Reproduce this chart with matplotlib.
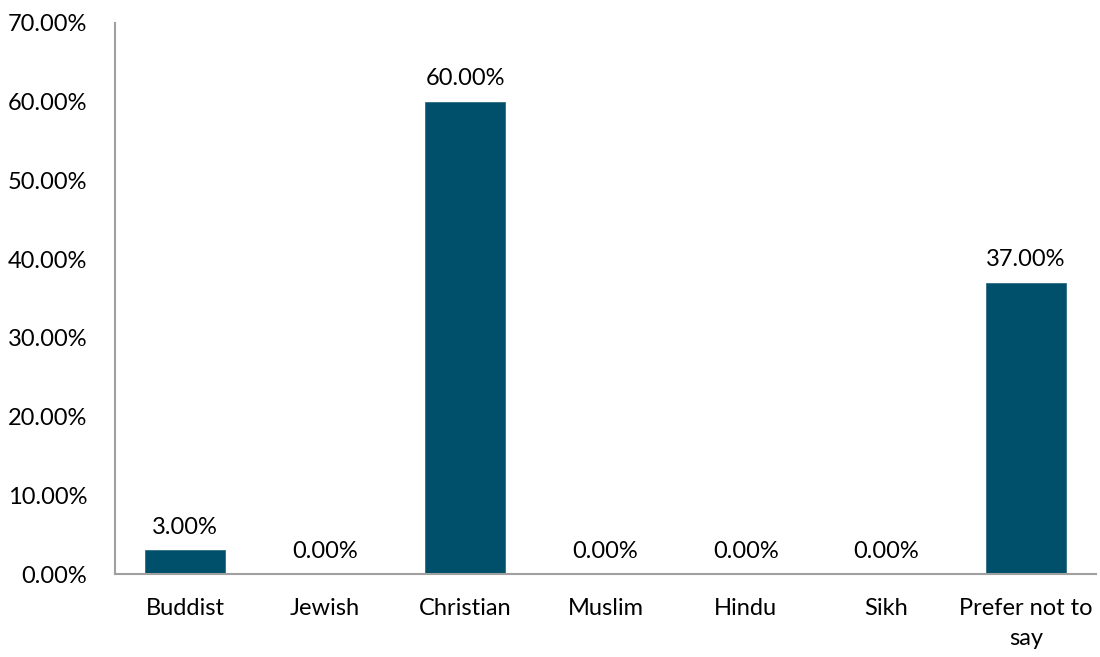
import matplotlib
matplotlib.use('Agg')
import matplotlib.pyplot as plt
from matplotlib.ticker import PercentFormatter

# Religion breakdown (percent of respondents)
categories = ['Buddist', 'Jewish', 'Christian', 'Muslim', 'Hindu', 'Sikh', 'Prefer not to\nsay']
values = [3.0, 0.0, 60.0, 0.0, 0.0, 0.0, 37.0]

plt.rcParams['font.family'] = ['Lato', 'DejaVu Sans']

fig = plt.figure(figsize=(11, 6.57), dpi=100)
ax = fig.add_axes([0.1045, 0.1263, 0.892, 0.8387])

x = range(len(categories))
bars = ax.bar(x, values, width=0.57, color='#004F6B', edgecolor='#2D6F86', linewidth=0.6, zorder=2)

# value labels above each bar
for b, v in zip(bars, values):
    ax.annotate(f'{v:.2f}%', (b.get_x() + b.get_width() / 2, b.get_height()),
                xytext=(0, 9), textcoords='offset points',
                ha='center', va='bottom', fontsize=17, color='black')

ax.set_xlim(-0.5, len(categories) - 0.5)
ax.set_ylim(0, 70)
ax.set_yticks(range(0, 71, 10))
ax.yaxis.set_major_formatter(PercentFormatter(decimals=2))
ax.set_xticks(list(x))
ax.set_xticklabels(categories, fontsize=17, linespacing=1.55)
ax.tick_params(axis='y', labelsize=17, length=0, pad=20)
ax.tick_params(axis='x', length=0, pad=17)

for side in ['top', 'right']:
    ax.spines[side].set_visible(False)
for side in ['left', 'bottom']:
    ax.spines[side].set_color('#A0A0A0')
    ax.spines[side].set_linewidth(1.5)

fig.savefig('out.png', dpi=100)
